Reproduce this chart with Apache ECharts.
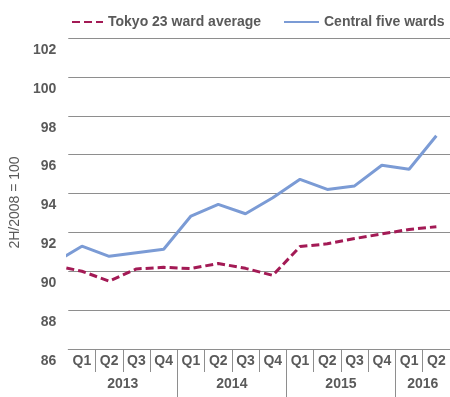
<!DOCTYPE html>
<html>
<head>
<meta charset="utf-8">
<title>Tokyo office rent index</title>
<script src="https://cdn.jsdelivr.net/npm/echarts@6/dist/echarts.min.js"></script>
<style>
  html, body { margin: 0; padding: 0; background: #fff; }
  #chart { width: 450px; height: 397px; }
</style>
</head>
<body>
<div id="chart"></div>
<script type="text/javascript">
// quarters shown on the axis, 2013 Q1 .. 2016 Q2
var quarters = ['Q1', 'Q2', 'Q3', 'Q4', 'Q1', 'Q2', 'Q3', 'Q4', 'Q1', 'Q2', 'Q3', 'Q4', 'Q1', 'Q2'];
var years = ['2013', '2014', '2015', '2016'];
var yearQuarters = [4, 4, 4, 2];

// first value is 2012 Q4, only its segment into the chart shows
var tokyo23 = [90.3, 90.0, 89.49, 90.12, 90.2, 90.14, 90.4, 90.15, 89.79, 91.27, 91.41, 91.68, 91.92, 92.15, 92.29];
var central5 = [90.45, 91.29, 90.77, 90.95, 91.13, 92.84, 93.44, 92.96, 93.78, 94.73, 94.21, 94.39, 95.45, 95.25, 96.97];

var textColor = '#5a5a5a';
var gridColor = '#8e8e8e';
var font = 'Liberation Sans, Arial, sans-serif';

// year separators and label spots in quarter units
var yearEdges = [], yearMids = [], acc = 0;
for (var i = 0; i < yearQuarters.length; i++) {
    yearMids.push(acc + yearQuarters[i] / 2);
    acc += yearQuarters[i];
    if (i < yearQuarters.length - 1) yearEdges.push(acc);
}
var quarterEdges = [];
for (var i = 1; i < quarters.length; i++) {
    if (yearEdges.indexOf(i) < 0) quarterEdges.push(i);
}

function toPoints(vals) {
    var pts = [];
    for (var i = 0; i < vals.length; i++) pts.push([i - 0.5, vals[i]]);
    return pts;
}

var chart = echarts.init(document.getElementById('chart'));
chart.setOption({
    animation: false,
    textStyle: { fontFamily: font },
    grid: { left: 63, top: 38, width: 389, height: 311 },
    legend: [{
        data: ['Tokyo 23 ward average'],
        left: 71, top: 15, padding: 0,
        itemWidth: 31, itemHeight: 14,
        itemStyle: { opacity: 0 },
        textStyle: { color: textColor, fontSize: 14, fontWeight: 'bold', fontFamily: font }
    }, {
        data: ['Central five wards'],
        left: 283, top: 15, padding: 0,
        itemWidth: 35, itemHeight: 14,
        itemStyle: { opacity: 0 },
        textStyle: { color: textColor, fontSize: 14, fontWeight: 'bold', fontFamily: font }
    }],
    xAxis: [{
        type: 'category',
        data: quarters,
        position: 'bottom',
        boundaryGap: true,
        axisLine: { lineStyle: { color: gridColor, width: 1 } },
        axisTick: { show: false },
        axisLabel: { interval: 0, margin: 5, color: textColor, fontSize: 14, fontWeight: 'bold' }
    }, {
        type: 'value',
        position: 'bottom',
        min: 0, max: quarters.length,
        show: false
    }, {
        type: 'value',
        position: 'bottom',
        min: 0, max: quarters.length,
        axisLine: { show: false },
        splitLine: { show: false },
        axisTick: { show: true, customValues: quarterEdges, length: 23, lineStyle: { color: gridColor } },
        axisLabel: { show: false }
    }, {
        type: 'value',
        position: 'bottom',
        min: 0, max: quarters.length,
        axisLine: { show: false },
        splitLine: { show: false },
        axisTick: { show: true, customValues: yearEdges, length: 50, lineStyle: { color: gridColor } },
        axisLabel: {
            customValues: yearMids,
            margin: 28,
            color: textColor, fontSize: 14, fontWeight: 'bold',
            formatter: function (v) { return years[yearMids.indexOf(v)]; }
        }
    }],
    yAxis: {
        type: 'value',
        min: 86, max: 102, interval: 2,
        name: '2H/2008 = 100',
        nameLocation: 'middle',
        nameGap: 43,
        nameTextStyle: { color: textColor, fontSize: 14, padding: [0, 18, 0, 0] },
        axisLine: { show: false },
        axisTick: { show: false },
        axisLabel: { margin: 12, color: textColor, fontSize: 14, fontWeight: 'bold', verticalAlign: 'top', padding: [5, 0, 0, 0] },
        splitLine: { lineStyle: { color: gridColor, width: 1.2 } }
    },
    series: [{
        name: 'Tokyo 23 ward average',
        type: 'line',
        xAxisIndex: 1,
        data: toPoints(tokyo23),
        symbol: 'none',
        clip: true,
        lineStyle: { color: '#a31a55', width: 3, type: [8, 4] },
        itemStyle: { color: '#a31a55' }
    }, {
        name: 'Central five wards',
        type: 'line',
        xAxisIndex: 1,
        data: toPoints(central5),
        symbol: 'none',
        clip: true,
        lineStyle: { color: '#7b9bd5', width: 3 },
        itemStyle: { color: '#7b9bd5' }
    }]
});
</script>
</body>
</html>
